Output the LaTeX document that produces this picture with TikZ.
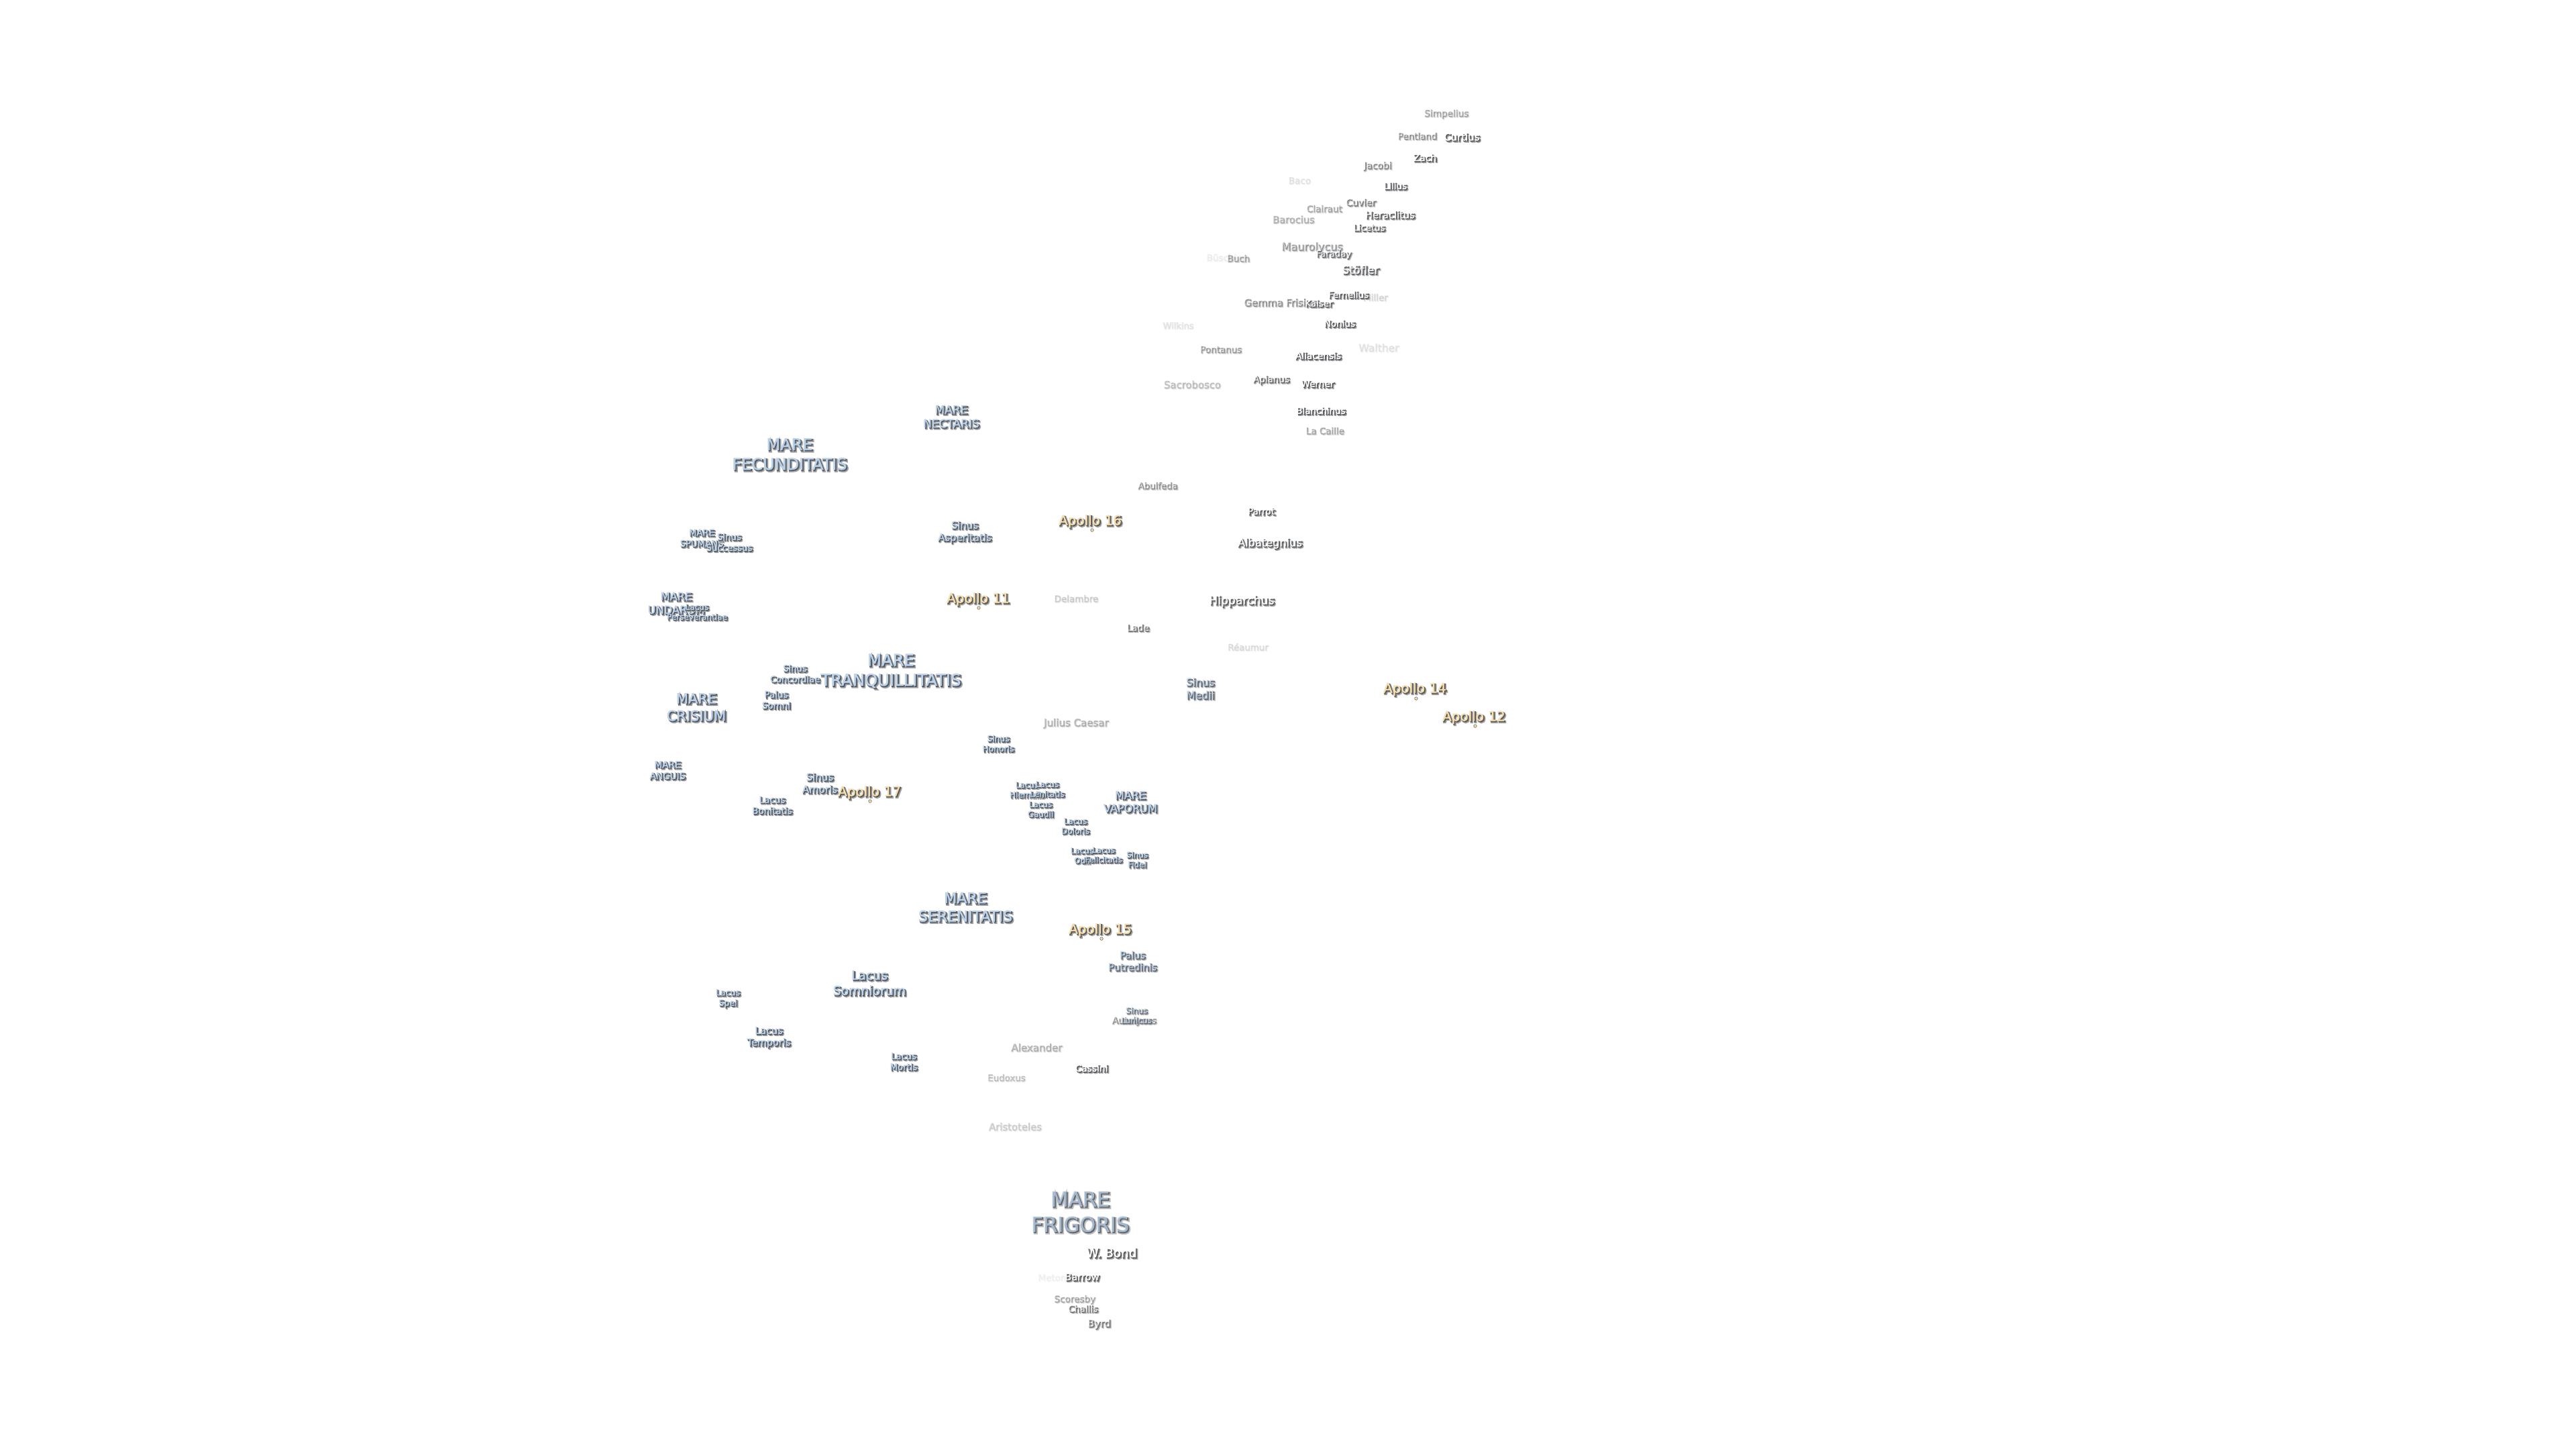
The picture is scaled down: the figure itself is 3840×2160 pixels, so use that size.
\documentclass[tikz,border=0pt]{standalone}
\usepackage{fontspec}
\setmainfont{DejaVu Sans}
\newfontfamily\halofont[FakeBold=11]{DejaVu Sans}
\newfontfamily\edgefont[FakeBold=5]{DejaVu Sans}
\newfontfamily\facefont[FakeBold=2]{DejaVu Sans}
\usepackage{xcolor}
\definecolor{marefill}{HTML}{BCD4EE}
\definecolor{apollofill}{HTML}{F8DFAE}
\definecolor{haze}{HTML}{A2A2A2}
\definecolor{edge}{HTML}{55585C}
\usetikzlibrary{positioning}
% sizes are given in pixels of the 3840 wide sheet
\newcommand{\sz}[1]{\fontsize{\fpeval{#1*.28453}}{\fpeval{#1*.28453*1.22}}\selectfont}
\newcommand{\halo}[1]{\leavevmode
  \rlap{\raisebox{-.7pt}{\kern.7pt\color{haze}\halofont #1}}%
  \rlap{\raisebox{-.4pt}{\kern.4pt\color{edge}\edgefont #1}}%
  {\facefont #1}}

\begin{document}
\begin{tikzpicture}[x=0.01cm, y=-0.01cm]
\tikzset{
  mare/.style={font=\sz{#1}, text=marefill, align=center, inner sep=0pt, xshift=-.3pt},
  crater/.style={font=\sz{#1}, text=white, align=center, inner sep=0pt, xshift=-.3pt},
  apollo/.style={font=\sz{20}, text=apollofill, align=center, inner sep=0pt, xshift=-.3pt, yshift=-.6pt},
  site/.style={circle, fill=apollofill, draw=edge, line width=.15pt, minimum size=1.3pt, inner sep=0pt}
}
\useasboundingbox (0,0) rectangle (3840,2160);

% Maria
\node[mare=17, opacity=.95] (nectaris) at (1419,622) {\halo{MARE}\\\halo{NECTARIS}};
\node[mare=24, opacity=.95] (fecunditatis) at (1178,678) {\halo{MARE}\\\halo{FECUNDITATIS}};
\node[mare=13.2] (spumans) at (1047,803) {\halo{MARE}\\\halo{SPUMANS}};
\node[mare=16.3] (undarum) at (1009,900) {\halo{MARE}\\\halo{UNDARUM}};
\node[mare=24.3] (tranquillitatis) at (1329,1001) {\halo{MARE}\\\halo{TRANQUILLITATIS}};
\node[mare=21] (crisium) at (1039,1055) {\halo{MARE}\\\halo{CRISIUM}};
\node[mare=13.7] (anguis) at (996,1149) {\halo{MARE}\\\halo{ANGUIS}};
\node[mare=16] (vaporum) at (1686,1196) {\halo{MARE}\\\halo{VAPORUM}};
\node[mare=22.2] (serenitatis) at (1440,1353) {\halo{MARE}\\\halo{SERENITATIS}};
\node[mare=30.7, opacity=.7] (frigoris) at (1611,1807) {\halo{MARE}\\\halo{FRIGORIS}};

% Sinus, lacus, palus
\node[mare=13.3] (successus) at (1088,809) {\halo{Sinus}\\\halo{Successus}};
\node[mare=12] (perseverantiae) at (1040,913) {\halo{Lacus}\\\halo{Perseverantiae}};
\node[mare=14.9, opacity=.9] (asperitatis) at (1439,794) {\halo{Sinus}\\\halo{Asperitatis}};
\node[mare=13.2] (concordiae) at (1186,1005) {\halo{Sinus}\\\halo{Concordiae}};
\node[mare=13.5] (somni) at (1158,1044) {\halo{Palus}\\\halo{Somni}};
\node[mare=12.3] (honoris) at (1489,1109) {\halo{Sinus}\\\halo{Honoris}};
\node[mare=15.7, opacity=.7] (medii) at (1790,1027) {\halo{Sinus}\\\halo{Medii}};
\node[mare=15] (amoris) at (1223,1168) {\halo{Sinus}\\\halo{Amoris}};
\node[mare=13.5] (bonitatis) at (1152,1201) {\halo{Lacus}\\\halo{Bonitatis}};
\node[mare=12] (hiemalis) at (1532,1178) {\halo{Lacus}\\\halo{Hiemalis}};
\node[mare=12] (lenitatis) at (1562,1177) {\halo{Lacus}\\\halo{Lenitatis}};
\node[mare=12] (gaudii) at (1552,1207) {\halo{Lacus}\\\halo{Gaudii}};
\node[mare=12] (doloris) at (1604,1232) {\halo{Lacus}\\\halo{Doloris}};
\node[mare=12] (odii) at (1614,1276) {\halo{Lacus}\\\halo{Odii}};
\node[mare=11.7] (felicitatis) at (1646,1275) {\halo{Lacus}\\\halo{Felicitatis}};
\node[mare=11.8] (fidei) at (1696,1282) {\halo{Sinus}\\\halo{Fidei}};
\node[mare=14.6, opacity=.7] (putredinis) at (1689,1433) {\halo{Palus}\\\halo{Putredinis}};
\node[mare=18.8] (somniorum) at (1297,1466) {\halo{Lacus}\\\halo{Somniorum}};
\node[mare=12.6] (spei) at (1086,1489) {\halo{Lacus}\\\halo{Spei}};
\node[mare=14.4] (temporis) at (1147,1547) {\halo{Lacus}\\\halo{Temporis}};
\node[mare=13.2] (mortis) at (1348,1583) {\halo{Lacus}\\\halo{Mortis}};

% Apollo sites
\node[apollo] (a16) at (1626,776) {\halo{Apollo 16}};
\node[site] (a16site) at (1628,790) {};
\node[apollo] (a11) at (1459,892) {\halo{Apollo 11}};
\node[site] (a11site) at (1459,906) {};
\node[apollo] (a14) at (2110,1026) {\halo{Apollo 14}};
\node[site] (a14site) at (2111,1041) {};
\node[apollo] (a12) at (2198,1068) {\halo{Apollo 12}};
\node[site] (a12site) at (2199,1082) {};
\node[apollo] (a17) at (1297,1180) {\halo{Apollo 17}};
\node[site] (a17site) at (1297,1194) {};
\node[apollo] (a15) at (1641,1385) {\halo{Apollo 15}};
\node[site] (a15site) at (1642,1399) {};

% Craters, south
\node[crater=13.6, opacity=.3] (simpelius) at (2156,170) {\halo{Simpelius}};
\node[crater=13.3, opacity=.4] (pentland) at (2113,203) {\halo{Pentland}};
\node[crater=14.9] (curtius) at (2180,205) {\halo{Curtius}};
\node[crater=13.9, opacity=.95] (zach) at (2125,236) {\halo{Zach}};
\node[crater=13.8, opacity=.45] (jacobi) at (2054,248) {\halo{Jacobi}};
\node[crater=13.5, opacity=.9] (lilius) at (2081,278) {\halo{Lilius}};
\node[crater=13.5, opacity=.08] (baco) at (1937,269) {\halo{Baco}};
\node[crater=13.8, opacity=.5] (cuvier) at (2029,302) {\halo{Cuvier}};
\node[crater=13.5, opacity=.3] (clairaut) at (1974,311) {\halo{Clairaut}};
\node[crater=14.6, opacity=.85] (heraclitus) at (2073,321) {\halo{Heraclitus}};
\node[crater=14.5, opacity=.25] (barocius) at (1928,327) {\halo{Barocius}};
\node[crater=13.3, opacity=.85] (licetus) at (2042,340) {\halo{Licetus}};
\node[crater=16, opacity=.35] (maurolycus) at (1956,369) {\halo{Maurolycus}};
\node[crater=13.2, opacity=.65] (faraday) at (1989,380) {\halo{Faraday}};
\node[crater=13.5, opacity=.05] (busching) at (1829,385) {\halo{Büsching}};
\node[crater=13.4, opacity=.3] (buch) at (1846,385) {\halo{Buch}};
\node[crater=16.5, opacity=.8] (stofler) at (2029,403) {\halo{Stöfler}};
\node[crater=13.5, opacity=.12] (miller) at (2050,443) {\halo{Miller}};
\node[crater=13.4, opacity=.9] (fernelius) at (2011,440) {\halo{Fernelius}};
\node[crater=14.7, opacity=.4] (gemma) at (1909,451) {\halo{Gemma Frisius}};
\node[crater=13.3, opacity=.85] (kaiser) at (1967,453) {\halo{Kaiser}};
\node[crater=13.5] (nonius) at (1998,483) {\halo{Nonius}};
\node[crater=13, opacity=.08] (wilkins) at (1756,485) {\halo{Wilkins}};
\node[crater=13.4, opacity=.35] (pontanus) at (1820,521) {\halo{Pontanus}};
\node[crater=15.5, opacity=.08] (walther) at (2055,518) {\halo{Walther}};
\node[crater=13.7] (aliacensis) at (1966,531) {\halo{Aliacensis}};
\node[crater=13.5, opacity=.7] (apianus) at (1896,567) {\halo{Apianus}};
\node[crater=14.8, opacity=.2] (sacrobosco) at (1777,573) {\halo{Sacrobosco}};
\node[crater=13.6] (werner) at (1965,573) {\halo{Werner}};
\node[crater=13.4] (blanchinus) at (1970,613) {\halo{Blanchinus}};
\node[crater=13.4, opacity=.3] (lacaille) at (1975,642) {\halo{La Caille}};

% Craters, middle
\node[crater=13.3, opacity=.4] (abulfeda) at (1726,724) {\halo{Abulfeda}};
\node[crater=13.5] (parrot) at (1881,763) {\halo{Parrot}};
\node[crater=16.2, opacity=.9] (albategnius) at (1894,811) {\halo{Albategnius}};
\node[crater=17.2, opacity=.9] (hipparchus) at (1852,897) {\halo{Hipparchus}};
\node[crater=13.4, opacity=.15] (delambre) at (1604,892) {\halo{Delambre}};
\node[crater=13.7, opacity=.6] (lade) at (1697,936) {\halo{Lade}};
\node[crater=13.3, opacity=.1] (reaumur) at (1860,964) {\halo{Réaumur}};
\node[crater=15, opacity=.25] (caesar) at (1604,1078) {\halo{Julius Caesar}};

% Craters, north
\node[crater=13.5, opacity=.4] (autolycus) at (1691,1522) {\halo{Autolycus}};
\node[mare=12, opacity=.6] (lunicus) at (1695,1514) {\halo{Sinus}\\\halo{Lunicus}};
\node[crater=15, opacity=.25] (alexander) at (1545,1561) {\halo{Alexander}};
\node[crater=13.8] (cassini) at (1628,1593) {\halo{Cassini}};
\node[crater=13.3, opacity=.2] (eudoxus) at (1500,1606) {\halo{Eudoxus}};
\node[crater=14.8, opacity=.15] (aristoteles) at (1513,1679) {\halo{Aristoteles}};
\node[crater=18.4] (wbond) at (1658,1868) {\halo{W. Bond}};
\node[crater=13.5, opacity=.04] (meton) at (1568,1904) {\halo{Meton}};
\node[crater=14.6, opacity=.9] (barrow) at (1614,1904) {\halo{Barrow}};
\node[crater=13.5, opacity=.3] (scoresby) at (1602,1937) {\halo{Scoresby}};
\node[crater=13.5, opacity=.6] (challis) at (1615,1951) {\halo{Challis}};
\node[crater=14.8, opacity=.55] (byrd) at (1639,1974) {\halo{Byrd}};
\end{tikzpicture}
\end{document}
